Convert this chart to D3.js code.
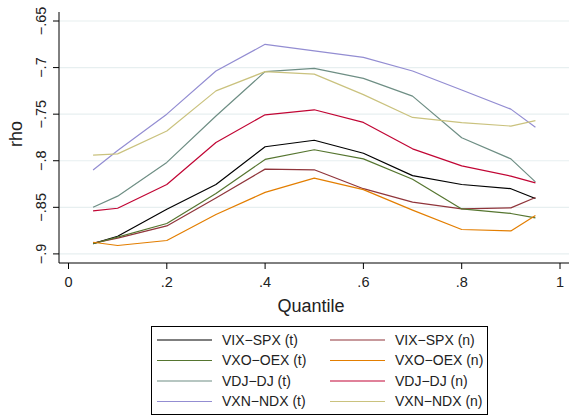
<!DOCTYPE html>
<html>
<head>
<meta charset="utf-8">
<script src="https://cdn.jsdelivr.net/npm/d3@7"></script>
<style>
  body { margin: 0; background: #fff; }
  svg { display: block; font-family: "Liberation Sans", Arial, Helvetica, sans-serif; }
</style>
</head>
<body>
<div class="chart-container"></div>
<script>
document.addEventListener('DOMContentLoaded', function() {

    // quantiles on the x axis
    const quantiles = [0.05, 0.1, 0.2, 0.3, 0.4, 0.5, 0.6, 0.7, 0.8, 0.9, 0.95];

    // rho estimates
    const vixSpxT = [-0.889, -0.881, -0.852, -0.8255, -0.785, -0.778, -0.792, -0.816, -0.8255, -0.830, -0.8405];
    const vixSpxN = [-0.8885, -0.883, -0.870, -0.840, -0.809, -0.8097, -0.830, -0.8445, -0.8517, -0.8506, -0.8395];
    const vxoOexT = [-0.889, -0.882, -0.8674, -0.8352, -0.7986, -0.7882, -0.798, -0.8198, -0.8517, -0.8566, -0.8613];
    const vxoOexN = [-0.8875, -0.891, -0.8856, -0.8577, -0.834, -0.8187, -0.831, -0.853, -0.8738, -0.8753, -0.8588];
    const vdjDjT  = [-0.850, -0.838, -0.8018, -0.752, -0.7044, -0.7008, -0.7116, -0.7306, -0.7754, -0.798, -0.8227];
    const vdjDjN  = [-0.8538, -0.851, -0.8255, -0.7804, -0.7507, -0.7453, -0.7589, -0.7872, -0.8055, -0.8165, -0.8237];
    const vxnNdxT = [-0.810, -0.789, -0.750, -0.7037, -0.675, -0.682, -0.689, -0.7037, -0.724, -0.7446, -0.764];
    const vxnNdxN = [-0.794, -0.7926, -0.768, -0.725, -0.7044, -0.707, -0.729, -0.7535, -0.759, -0.7628, -0.757];

    const seriesNames = ["VIX−SPX (t)", "VIX−SPX (n)", "VXO−OEX (t)", "VXO−OEX (n)",
                         "VDJ−DJ (t)", "VDJ−DJ (n)", "VXN−NDX (t)", "VXN−NDX (n)"];
    const seriesValues = [vixSpxT, vixSpxN, vxoOexT, vxoOexN, vdjDjT, vdjDjN, vxnNdxT, vxnNdxN];

    const xTicks = [0, 0.2, 0.4, 0.6, 0.8, 1];
    const xTickLabels = ["0", ".2", ".4", ".6", ".8", "1"];
    const yTicks = [-0.9, -0.85, -0.8, -0.75, -0.7, -0.65];
    const yTickLabels = ["−.9", "−.85", "−.8", "−.75", "−.7", "−.65"];

    const width = 569;
    const height = 417;

    // plot region (Stata style: axis lines left and bottom only)
    const plotLeft = 59, plotRight = 569, plotTop = 12, plotBottom = 263;

    const colors = d3.scaleOrdinal()
        .domain(seriesNames)
        .range(["#000000", "rgb(144,53,59)", "rgb(85,117,47)", "rgb(227,126,0)",
                "rgb(110,142,132)", "rgb(193,5,52)", "rgb(147,141,210)", "rgb(202,194,126)"]);

    const x = d3.scaleLinear().domain([0, 1]).range([68.5, 560]);
    const y = d3.scaleLinear().domain([-0.9, -0.65]).range([253.9, 21]);

    const svg = d3.select(".chart-container")
        .append("svg")
        .attr("width", width)
        .attr("height", height);

    svg.append("rect")
        .attr("width", width)
        .attr("height", height)
        .attr("fill", "#fff");

    // gridlines
    svg.append("g")
        .selectAll("line")
        .data(yTicks)
        .join("line")
        .attr("x1", plotLeft)
        .attr("x2", plotRight)
        .attr("y1", d => y(d))
        .attr("y2", d => y(d))
        .attr("stroke", "#e7eff0")
        .attr("stroke-width", 1.2);

    // series lines
    const line = d3.line()
        .x(d => x(d[0]))
        .y(d => y(d[1]));

    svg.append("g")
        .attr("fill", "none")
        .selectAll("path")
        .data(seriesNames.map((name, i) => ({name, values: d3.zip(quantiles, seriesValues[i])})))
        .join("path")
        .attr("stroke", d => colors(d.name))
        .attr("stroke-width", 1.2)
        .attr("stroke-linejoin", "round")
        .attr("d", d => line(d.values));

    // y axis
    const yAxis = svg.append("g");
    yAxis.append("line")
        .attr("x1", plotLeft).attr("x2", plotLeft)
        .attr("y1", plotTop).attr("y2", plotBottom)
        .attr("stroke", "#000");
    yAxis.selectAll(".tick")
        .data(yTicks)
        .join("g")
        .attr("class", "tick")
        .attr("transform", d => `translate(0,${y(d)})`)
        .call(g => g.append("line")
            .attr("x1", plotLeft - 6)
            .attr("x2", plotLeft)
            .attr("stroke", "#000"))
        .call(g => g.append("text")
            .attr("transform", "translate(45.5,0) rotate(-90)")
            .attr("text-anchor", "middle")
            .attr("font-size", 14.5)
            .attr("fill", "#222")
            .text((d, i) => yTickLabels[i]));

    svg.append("text")
        .attr("transform", "translate(22,134) rotate(-90)")
        .attr("text-anchor", "middle")
        .attr("font-size", 18)
        .attr("fill", "#222")
        .text("rho");

    // x axis
    const xAxis = svg.append("g");
    xAxis.append("line")
        .attr("x1", plotLeft).attr("x2", plotRight)
        .attr("y1", plotBottom).attr("y2", plotBottom)
        .attr("stroke", "#000");
    xAxis.selectAll(".tick")
        .data(xTicks)
        .join("g")
        .attr("class", "tick")
        .attr("transform", d => `translate(${x(d)},0)`)
        .call(g => g.append("line")
            .attr("y1", plotBottom)
            .attr("y2", plotBottom + 6)
            .attr("stroke", "#000"))
        .call(g => g.append("text")
            .attr("y", 286.5)
            .attr("text-anchor", "middle")
            .attr("font-size", 14.5)
            .attr("fill", "#222")
            .text((d, i) => xTickLabels[i]));

    svg.append("text")
        .attr("x", 311)
        .attr("y", 311.5)
        .attr("text-anchor", "middle")
        .attr("font-size", 18)
        .attr("fill", "#222")
        .text("Quantile");

    // legend, two columns
    const legend = svg.append("g");
    legend.append("rect")
        .attr("x", 151.5)
        .attr("y", 326.5)
        .attr("width", 336)
        .attr("height", 88)
        .attr("fill", "#fff")
        .attr("stroke", "#000");

    legend.selectAll(".item")
        .data(seriesNames)
        .join("g")
        .attr("class", "item")
        .attr("transform", (d, i) => `translate(${i % 2 === 0 ? 157 : 330},${340 + Math.floor(i / 2) * 20.5})`)
        .call(g => g.append("line")
            .attr("x2", 55)
            .attr("stroke", colors)
            .attr("stroke-width", 1.2))
        .call(g => g.append("text")
            .attr("x", 65)
            .attr("dy", "0.35em")
            .attr("font-size", 14)
            .attr("fill", "#222")
            .text(d => d));
});
</script>
</body>
</html>
